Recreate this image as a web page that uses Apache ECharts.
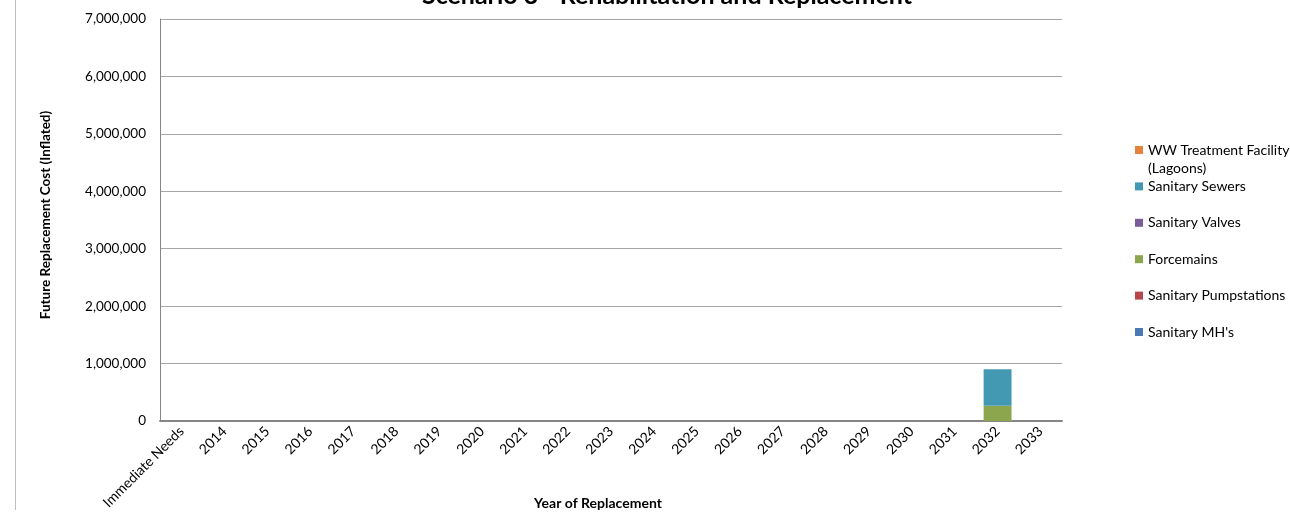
<!DOCTYPE html>
<html><head><meta charset="utf-8">
<script src="https://cdn.jsdelivr.net/npm/echarts@6/dist/echarts.min.js"></script>
<style>html,body{margin:0;padding:0;background:#fff}#c{width:1290px;height:522px}</style>
</head><body><div id="c"></div>
<script>
const categories = ["Immediate Needs","2014","2015","2016","2017","2018","2019","2020","2021","2022","2023","2024","2025","2026","2027","2028","2029","2030","2031","2032","2033"];
const sanitaryMH = [0,0,0,0,0,0,0,0,0,0,0,0,0,0,0,0,0,0,0,0,0];
const sanitaryPumpstations = [0,0,0,0,0,0,0,0,0,0,0,0,0,0,0,0,0,0,0,0,0];
const forcemains = [0,0,0,0,0,0,0,0,0,0,0,0,0,0,0,0,0,0,0,265000,0];
const sanitaryValves = [0,0,0,0,0,0,0,0,0,0,0,0,0,0,0,0,0,0,0,0,0];
const sanitarySewers = [0,0,0,0,0,0,0,0,0,0,0,0,0,0,0,0,0,0,0,635000,0];
const wwTreatment = [0,0,0,0,0,0,0,0,0,0,0,0,0,0,0,0,0,0,0,0,0];
const seriesNames = ["Sanitary MH's","Sanitary Pumpstations","Forcemains","Sanitary Valves","Sanitary Sewers","WW Treatment Facility (Lagoons)"];
const seriesData = [sanitaryMH, sanitaryPumpstations, forcemains, sanitaryValves, sanitarySewers, wwTreatment];
const colors = ["#4A7AB4","#B5474A","#8CA64E","#7A5C96","#4399B1","#E3833C"];
const yMax = 7000000, yInterval = 1000000;

const FONT = "Lato";
const chart = echarts.init(document.getElementById('c'));
chart.setOption({
  animation: false,
  textStyle: {fontFamily: FONT},
  color: colors,
  title: {
    text: "Scenario 3 - Rehabilitation and Replacement",
    left: 667, top: -17, textAlign: 'center', padding: 0,
    textStyle: {fontFamily: FONT, fontWeight: 'bold', fontSize: 25, color: '#000'}
  },
  grid: {left: 160, right: 228, top: 19, bottom: 101, containLabel: false},
  legend: {
    orient: 'vertical', left: 1135, top: 132, padding: 0,
    itemWidth: 8, itemHeight: 8, itemGap: 0.4,
    icon: 'rect',
    data: seriesNames.slice().reverse(),
    formatter: n => n === "WW Treatment Facility (Lagoons)" ? "WW Treatment Facility" : n,
    textStyle: {fontFamily: FONT, fontSize: 14, color: '#000', lineHeight: 36}
  },
  xAxis: {
    type: 'category', data: categories,
    axisLine: {lineStyle: {color: '#868686', width: 2}},
    axisTick: {show: false},
    axisLabel: {rotate: 45, fontFamily: FONT, fontSize: 14, color: '#000', margin: 8, interval: 0}
  },
  yAxis: {
    type: 'value', min: 0, max: yMax, interval: yInterval,
    axisLine: {show: true, lineStyle: {color: '#868686', width: 1}},
    axisTick: {show: false},
    splitLine: {lineStyle: {color: '#A6A6A6', width: 1}},
    axisLabel: {fontFamily: FONT, fontSize: 13.5, color: '#000', margin: 14,
      formatter: v => v.toLocaleString('en-US')}
  },
  series: seriesNames.map((n, i) => ({
    name: n, type: 'bar', stack: 'total', data: seriesData[i],
    barCategoryGap: '35%',
    itemStyle: {color: colors[i]}
  })),
  graphic: [
    {type: 'line', shape: {x1: 15.5, y1: 0, x2: 15.5, y2: 510}, style: {stroke: '#BFBFBF', lineWidth: 1}},
    {type: 'text', x: 1148, y: 168, style: {text: "(Lagoons)", font: "14px Lato", fill: '#000', textVerticalAlign: 'middle'}},
    {type: 'text', x: 598, y: 503, style: {text: "Year of Replacement", font: "bold 14px Lato", fill: '#000', textAlign: 'center', textVerticalAlign: 'middle'}},
    {type: 'text', x: 46, y: 215, rotation: Math.PI/2, style: {text: "Future Replacement Cost (Inflated)", font: "bold 13.5px Lato", fill: '#000', textAlign: 'center', textVerticalAlign: 'middle'}}
  ]
});
</script></body></html>
